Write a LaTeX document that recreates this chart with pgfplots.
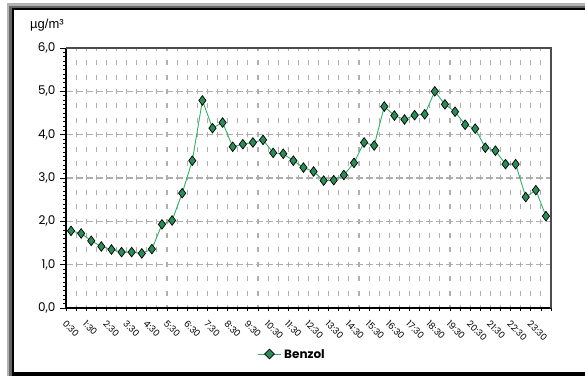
\documentclass[border=0pt]{standalone}
\usepackage{pgfplots}
\pgfplotsset{compat=1.18}
\usepackage{fontspec}
\setmainfont{Poppins}
\newfontfamily\unitfont{Liberation Sans}
\definecolor{markfill}{RGB}{46,139,87}
\definecolor{linegreen}{RGB}{60,170,110}
\definecolor{gridgray}{RGB}{175,175,175}

\pgfplotstableread{
idx val
1 1.78
2 1.72
3 1.55
4 1.42
5 1.35
6 1.29
7 1.29
8 1.26
9 1.36
10 1.93
11 2.02
12 2.65
13 3.40
14 4.79
15 4.15
16 4.28
17 3.72
18 3.78
19 3.82
20 3.88
21 3.58
22 3.56
23 3.40
24 3.24
25 3.15
26 2.94
27 2.95
28 3.07
29 3.35
30 3.82
31 3.75
32 4.65
33 4.44
34 4.35
35 4.45
36 4.47
37 5.00
38 4.70
39 4.53
40 4.23
41 4.14
42 3.70
43 3.63
44 3.32
45 3.32
46 2.56
47 2.72
48 2.12
}\benzol

\begin{document}
\begin{tikzpicture}
\useasboundingbox (0pt,0pt) rectangle (585pt,376pt);
% frame around the chart
\begin{scope}[x=1pt,y=1pt]
\fill[black!30] (7,0) rectangle (585,373);
\fill[black!60] (9,0) rectangle (585,370);
\fill[black] (12,0) rectangle (585,368);
\fill[white] (14,4) rectangle (585,366);
\fill[black] (14,2) rectangle (585,4);
\end{scope}

\begin{axis}[
  at={(66pt,68pt)}, anchor=south west,
  scale only axis, width=485pt, height=260pt,
  xmin=0.5, xmax=48.5, ymin=0, ymax=6,
  axis line style={line width=1.2pt},
  axis x line*=bottom, axis y line*=left,
  xtick={1,3,...,47},
  xticklabels={0:30,1:30,2:30,3:30,4:30,5:30,6:30,7:30,8:30,9:30,10:30,11:30,12:30,13:30,14:30,15:30,16:30,17:30,18:30,19:30,20:30,21:30,22:30,23:30},
  major x tick style={draw=none},
  minor xtick={0.5,1.5,...,48.5},
  minor x tick style={line width=0.8pt, black},
  xminorgrids,
  minor x grid style={gridgray, line width=1.1pt, dash pattern=on 5pt off 9.4pt, dash phase=2pt},
  xticklabel style={rotate=-45, anchor=north west, font=\fontsize{9}{10}\selectfont, inner sep=0pt, xshift=1pt, yshift=-7pt},
  ytick={0,1,...,6},
  yticklabels={{0,0},{1,0},{2,0},{3,0},{4,0},{5,0},{6,0}},
  minor y tick num=9,
  ymajorgrids,
  major y grid style={gridgray, line width=1.2pt, dash pattern=on 7pt off 3pt},
  tick align=outside,
  major tick length=6pt, minor tick length=3pt,
  y tick style={black, line width=1pt},
  minor y tick style={black, line width=0.8pt},
  yticklabel style={font=\fontsize{12}{13}\selectfont, xshift=-1pt},
  clip=false,
]
\addplot[color=linegreen, line width=0.9pt, mark=diamond*, mark size=4.8pt,
  mark options={fill=markfill, draw=black, line width=0.7pt}]
  table[x=idx, y=val] {\benzol};
\draw[black!70, line width=1.2pt] (axis cs:0.5,6) -- (axis cs:48.5,6) -- (axis cs:48.5,0);
\end{axis}

% unit label
\node[anchor=base west, inner sep=0pt, font=\unitfont\fontsize{13}{14}\selectfont] at (30pt,348pt) {µg/m³};

% legend
\begin{scope}[x=1pt,y=1pt]
\draw[linegreen, line width=0.9pt] (258,22) -- (281,22);
\draw[fill=markfill, draw=black, line width=0.7pt] (269.5,26.8) -- (274.3,22) -- (269.5,17.2) -- (264.7,22) -- cycle;
\node[anchor=base west, inner sep=0pt, font=\bfseries\fontsize{12}{13}\selectfont] at (284,17.5) {Benzol};
\end{scope}
\end{tikzpicture}
\end{document}
